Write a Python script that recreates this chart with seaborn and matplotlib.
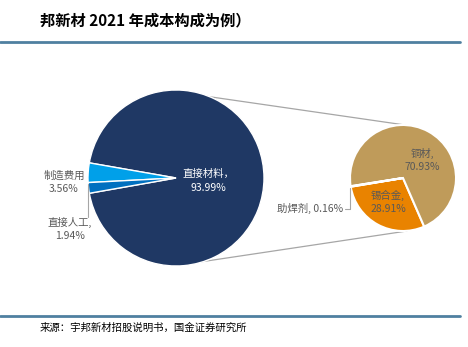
import matplotlib
matplotlib.use("Agg")
import matplotlib.pyplot as plt
import seaborn as sns

# ---- data ----
main_labels = ["直接材料", "制造费用", "直接人工"]
main_values = [93.99, 3.56, 1.94]
sub_labels = ["锡合金", "铜材", "助焊剂"]
sub_values = [28.91, 70.93, 0.16]
title_text = "邦新材 2021 年成本构成为例）"
source_text = "来源：宇邦新材招股说明书，国金证券研究所"

sns.set_theme(style="white")
plt.rcParams["font.family"] = ["Noto Sans CJK SC", "DejaVu Sans"]

W, H = 468, 347
fig = plt.figure(figsize=(W / 100, H / 100), dpi=100)
ax = fig.add_axes([0, 0, 1, 1])


def Y(py):
    return H - py


main_colors = ["#1f3864", "#00a0e9", "#0070c0"]
sub_colors = ["#e98300", "#bf9b5a", "#7f7f7f"]
gray = "#595959"

big_c = (176, Y(178))
big_r = 88
small_c = (403, Y(178))
small_r = 53

ax.pie(main_values, colors=main_colors, startangle=190, counterclock=True,
       center=big_c, radius=big_r, frame=True,
       wedgeprops=dict(edgecolor="white", linewidth=1.0))
ax.pie(sub_values, colors=sub_colors, startangle=189.5, counterclock=True,
       center=small_c, radius=small_r, frame=True,
       wedgeprops=dict(edgecolor="white", linewidth=1.5))
ax.set_xlim(0, W)
ax.set_ylim(0, H)
ax.set_aspect("equal")
ax.axis("off")

# connector lines
ax.plot([170, 405], [Y(91), Y(125)], color="#a6a6a6", lw=0.9, zorder=0)
ax.plot([180, 407], [Y(265), Y(231)], color="#a6a6a6", lw=0.9, zorder=0)

ls = 1.45
# labels big pie
ax.text(208, Y(181), f"{main_labels[0]}，\n{main_values[0]:.2f}%", color="white",
        fontsize=7.5, ha="center", va="center", linespacing=ls)
ax.text(64, Y(182), f"{main_labels[1]}\n{main_values[1]:.2f}%", color=gray,
        fontsize=7.5, ha="center", va="center", linespacing=ls)
ax.text(70, Y(229), f"{main_labels[2]},\n{main_values[2]:.2f}%", color=gray,
        fontsize=7.5, ha="center", va="center", linespacing=ls)
ax.plot([87.5, 87.5], [Y(184), Y(217)], color="#a6a6a6", lw=0.8)

# labels small pie
ax.text(422, Y(160), f"{sub_labels[1]},\n{sub_values[1]:.2f}%", color=gray,
        fontsize=7.5, ha="center", va="center", linespacing=ls)
ax.text(388, Y(202), f"{sub_labels[0]},\n{sub_values[0]:.2f}%", color=gray,
        fontsize=7.5, ha="center", va="center", linespacing=ls)
ax.text(343, Y(208), f"{sub_labels[2]}, {sub_values[2]:.2f}%", color=gray,
        fontsize=7.5, ha="right", va="center")
ax.plot([350, 350, 345], [Y(188), Y(209), Y(209)], color="#a6a6a6", lw=0.8)

# header / footer
ax.text(40, Y(20), title_text, fontsize=11, fontweight="bold", style="italic",
        color="black", ha="left", va="center")
ax.plot([0, 460], [Y(42), Y(42)], color="#4f80a0", lw=2)
ax.plot([0, 460], [Y(316), Y(316)], color="#4f80a0", lw=2)
ax.text(40, Y(328), source_text, fontsize=7.5, color="black", ha="left", va="center")

fig.savefig("out.png", dpi=100)
